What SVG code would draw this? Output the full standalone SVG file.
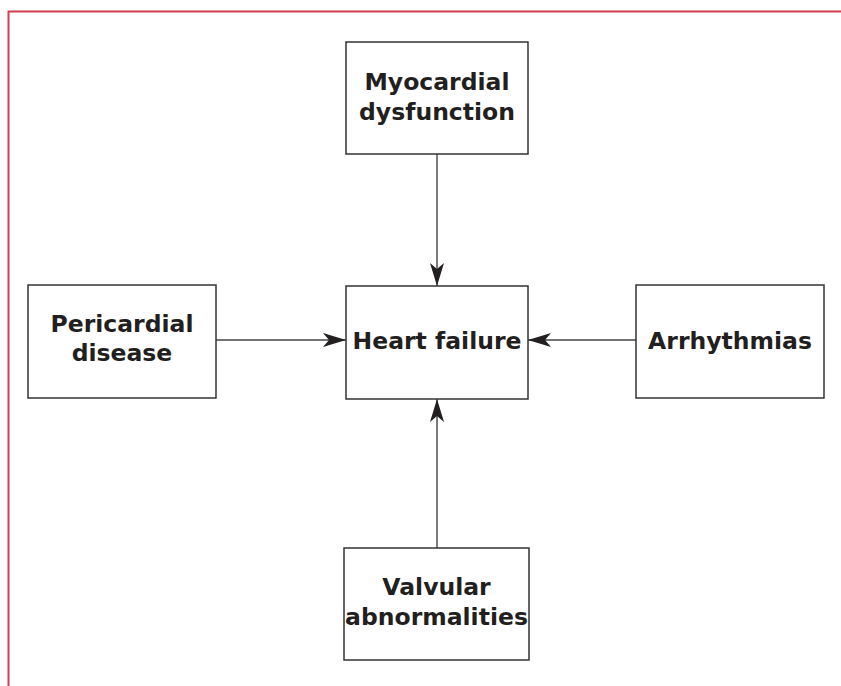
<svg xmlns="http://www.w3.org/2000/svg" width="841" height="686" viewBox="0 0 841 686">
<style>
.box{fill:#fff;stroke:#333;stroke-width:1.5}
.lbl{font-family:"DejaVu Sans",sans-serif;font-weight:bold;font-size:23.5px;fill:#231f20;text-anchor:middle}
.con{stroke:#444;stroke-width:1.4;fill:none}
</style>
<defs>
<marker id="ah" markerUnits="userSpaceOnUse" markerWidth="24" markerHeight="15" refX="23" refY="7.5" orient="auto">
<path d="M0,0.5 L23,7.5 L0,14.5 L6,7.5 Z" fill="#231f20"/>
</marker>
</defs>
<rect x="0" y="0" width="841" height="686" fill="#fff"/>
<path d="M8.5,686 V11.5 H841" fill="none" stroke="#d0404e" stroke-width="2"/>
<g id="connectors">
<line class="con" x1="437" y1="154" x2="437" y2="286" marker-end="url(#ah)"/>
<line class="con" x1="216" y1="340" x2="346" y2="340" marker-end="url(#ah)"/>
<line class="con" x1="636" y1="340" x2="528" y2="340" marker-end="url(#ah)"/>
<line class="con" x1="437" y1="548" x2="437" y2="399" marker-end="url(#ah)"/>
</g>
<g id="myocardial">
<rect class="box" x="346" y="42" width="182" height="112"/>
<text class="lbl" x="437" y="90">Myocardial</text>
<text class="lbl" x="437" y="120">dysfunction</text>
</g>
<g id="pericardial">
<rect class="box" x="28" y="285" width="188" height="113"/>
<text class="lbl" x="122" y="332">Pericardial</text>
<text class="lbl" x="122" y="361">disease</text>
</g>
<g id="heart-failure">
<rect class="box" x="346" y="286" width="182" height="113"/>
<text class="lbl" x="437" y="349">Heart failure</text>
</g>
<g id="arrhythmias">
<rect class="box" x="636" y="285" width="188" height="113"/>
<text class="lbl" x="730" y="349">Arrhythmias</text>
</g>
<g id="valvular">
<rect class="box" x="344" y="548" width="185" height="112"/>
<text class="lbl" x="436.5" y="595">Valvular</text>
<text class="lbl" x="436.5" y="625">abnormalities</text>
</g>
</svg>
